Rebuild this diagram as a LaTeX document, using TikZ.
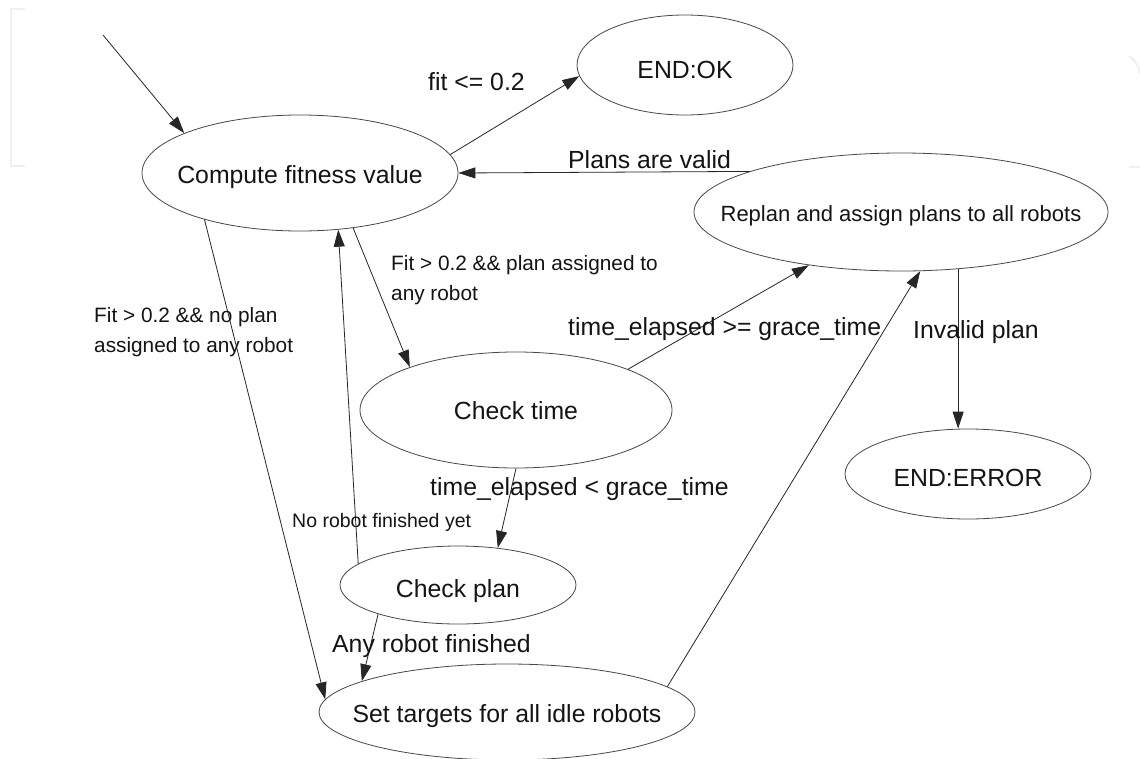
\documentclass[tikz,border=0pt]{standalone}
\usepackage{fontspec}
\setmainfont{Liberation Sans}
\usetikzlibrary{shapes.geometric,arrows.meta}
\begin{document}
\begin{tikzpicture}[x=1pt,y=-1pt,
  state/.style={ellipse,draw=black!72,line width=0.8pt,inner sep=0pt},
  stxt/.style={text=black!92,font=\fontsize{24.8}{30}\selectfont,yshift=-4pt},
  edge/.style={draw=black!85,line width=0.8pt,-{Triangle[length=17pt,width=11pt]}},
  lbl/.style={anchor=base west,inner sep=0pt,text=black!92,font=\fontsize{24.8}{30}\selectfont},
  slbl/.style={lbl,font=\fontsize{20.8}{30}\selectfont,align=left},
  faint/.style={draw=black!6,line width=2pt}
]
\fill[white] (0,0) rectangle (1140,758);
\useasboundingbox (0,0) rectangle (1140,758);

% faint page marks
\draw[faint] (25,9) -- (11,9) -- (11,166) -- (25,166);
\draw[faint] (1129,56) .. controls (1135,60) and (1139,66) .. (1140,74);
\draw[faint] (1129,167) -- (1140,167);

% states
\node[state,minimum width=316pt,minimum height=116pt,label={[stxt]center:Compute fitness value}] (compute) at (300,173) {};
\node[state,minimum width=216pt,minimum height=100pt,label={[stxt,yshift=-1pt]center:END:OK}] (endok) at (685,65) {};
\node[state,minimum width=414pt,minimum height=118pt,label={[stxt,font=\fontsize{22}{26}\selectfont]center:Replan and assign plans to all robots}] (replan) at (901,212) {};
\node[state,minimum width=312pt,minimum height=116pt,label={[stxt,yshift=3pt]center:Check time}] (checktime) at (516,410) {};
\node[state,minimum width=246pt,minimum height=90pt,label={[stxt]center:END:ERROR}] (error) at (968,474) {};
\node[state,minimum width=236pt,minimum height=78pt,label={[stxt,yshift=-2pt]center:Check plan}] (checkplan) at (458,585) {};
\node[state,minimum width=376pt,minimum height=96pt,label={[stxt]center:Set targets for all idle robots}] (settargets) at (507,712) {};

% edges
\coordinate (start) at (103,35);
\draw[edge] (start) -- (compute.161.6);
\draw[edge] (compute.7) -- (endok.186);
\draw[edge] (replan.165) -- (compute.east);
\draw[edge] (compute.-46) -- (checktime.158);
\draw[edge] (checkplan.168) -- (compute.-56);
\draw[edge] (compute.-154) -- (settargets.176);
\draw[edge] (checktime.20) -- (replan.-150);
\draw[edge] (checktime.south) -- (checkplan.43);
\draw[edge] (checkplan.-160) -- (settargets.168);
\draw[edge] (settargets.9) -- (replan.-72);
\draw[edge] (replan.-45) -- (replan.-45 |- error.north);

% labels
\node[lbl] (lfit) at (428,90) {fit <= 0.2};
\node[lbl] (lvalid) at (568,168) {Plans are valid};
\node[slbl] (lassigned) at (391,300) {Fit > 0.2 \&\& plan assigned to\\any robot};
\node[slbl] (lnoplan) at (94,352) {Fit > 0.2 \&\& no plan\\assigned to any robot};
\node[lbl] (lge) at (568,335) {time\_elapsed >= grace\_time};
\node[lbl] (llt) at (430,495) {time\_elapsed < grace\_time};
\node[lbl,font=\fontsize{19.5}{24}\selectfont] (lnorobot) at (292,527) {No robot finished yet};
\node[lbl] (lany) at (332,652) {Any robot finished};
\node[lbl] (linvalid) at (913,338) {Invalid plan};
\end{tikzpicture}
\end{document}
